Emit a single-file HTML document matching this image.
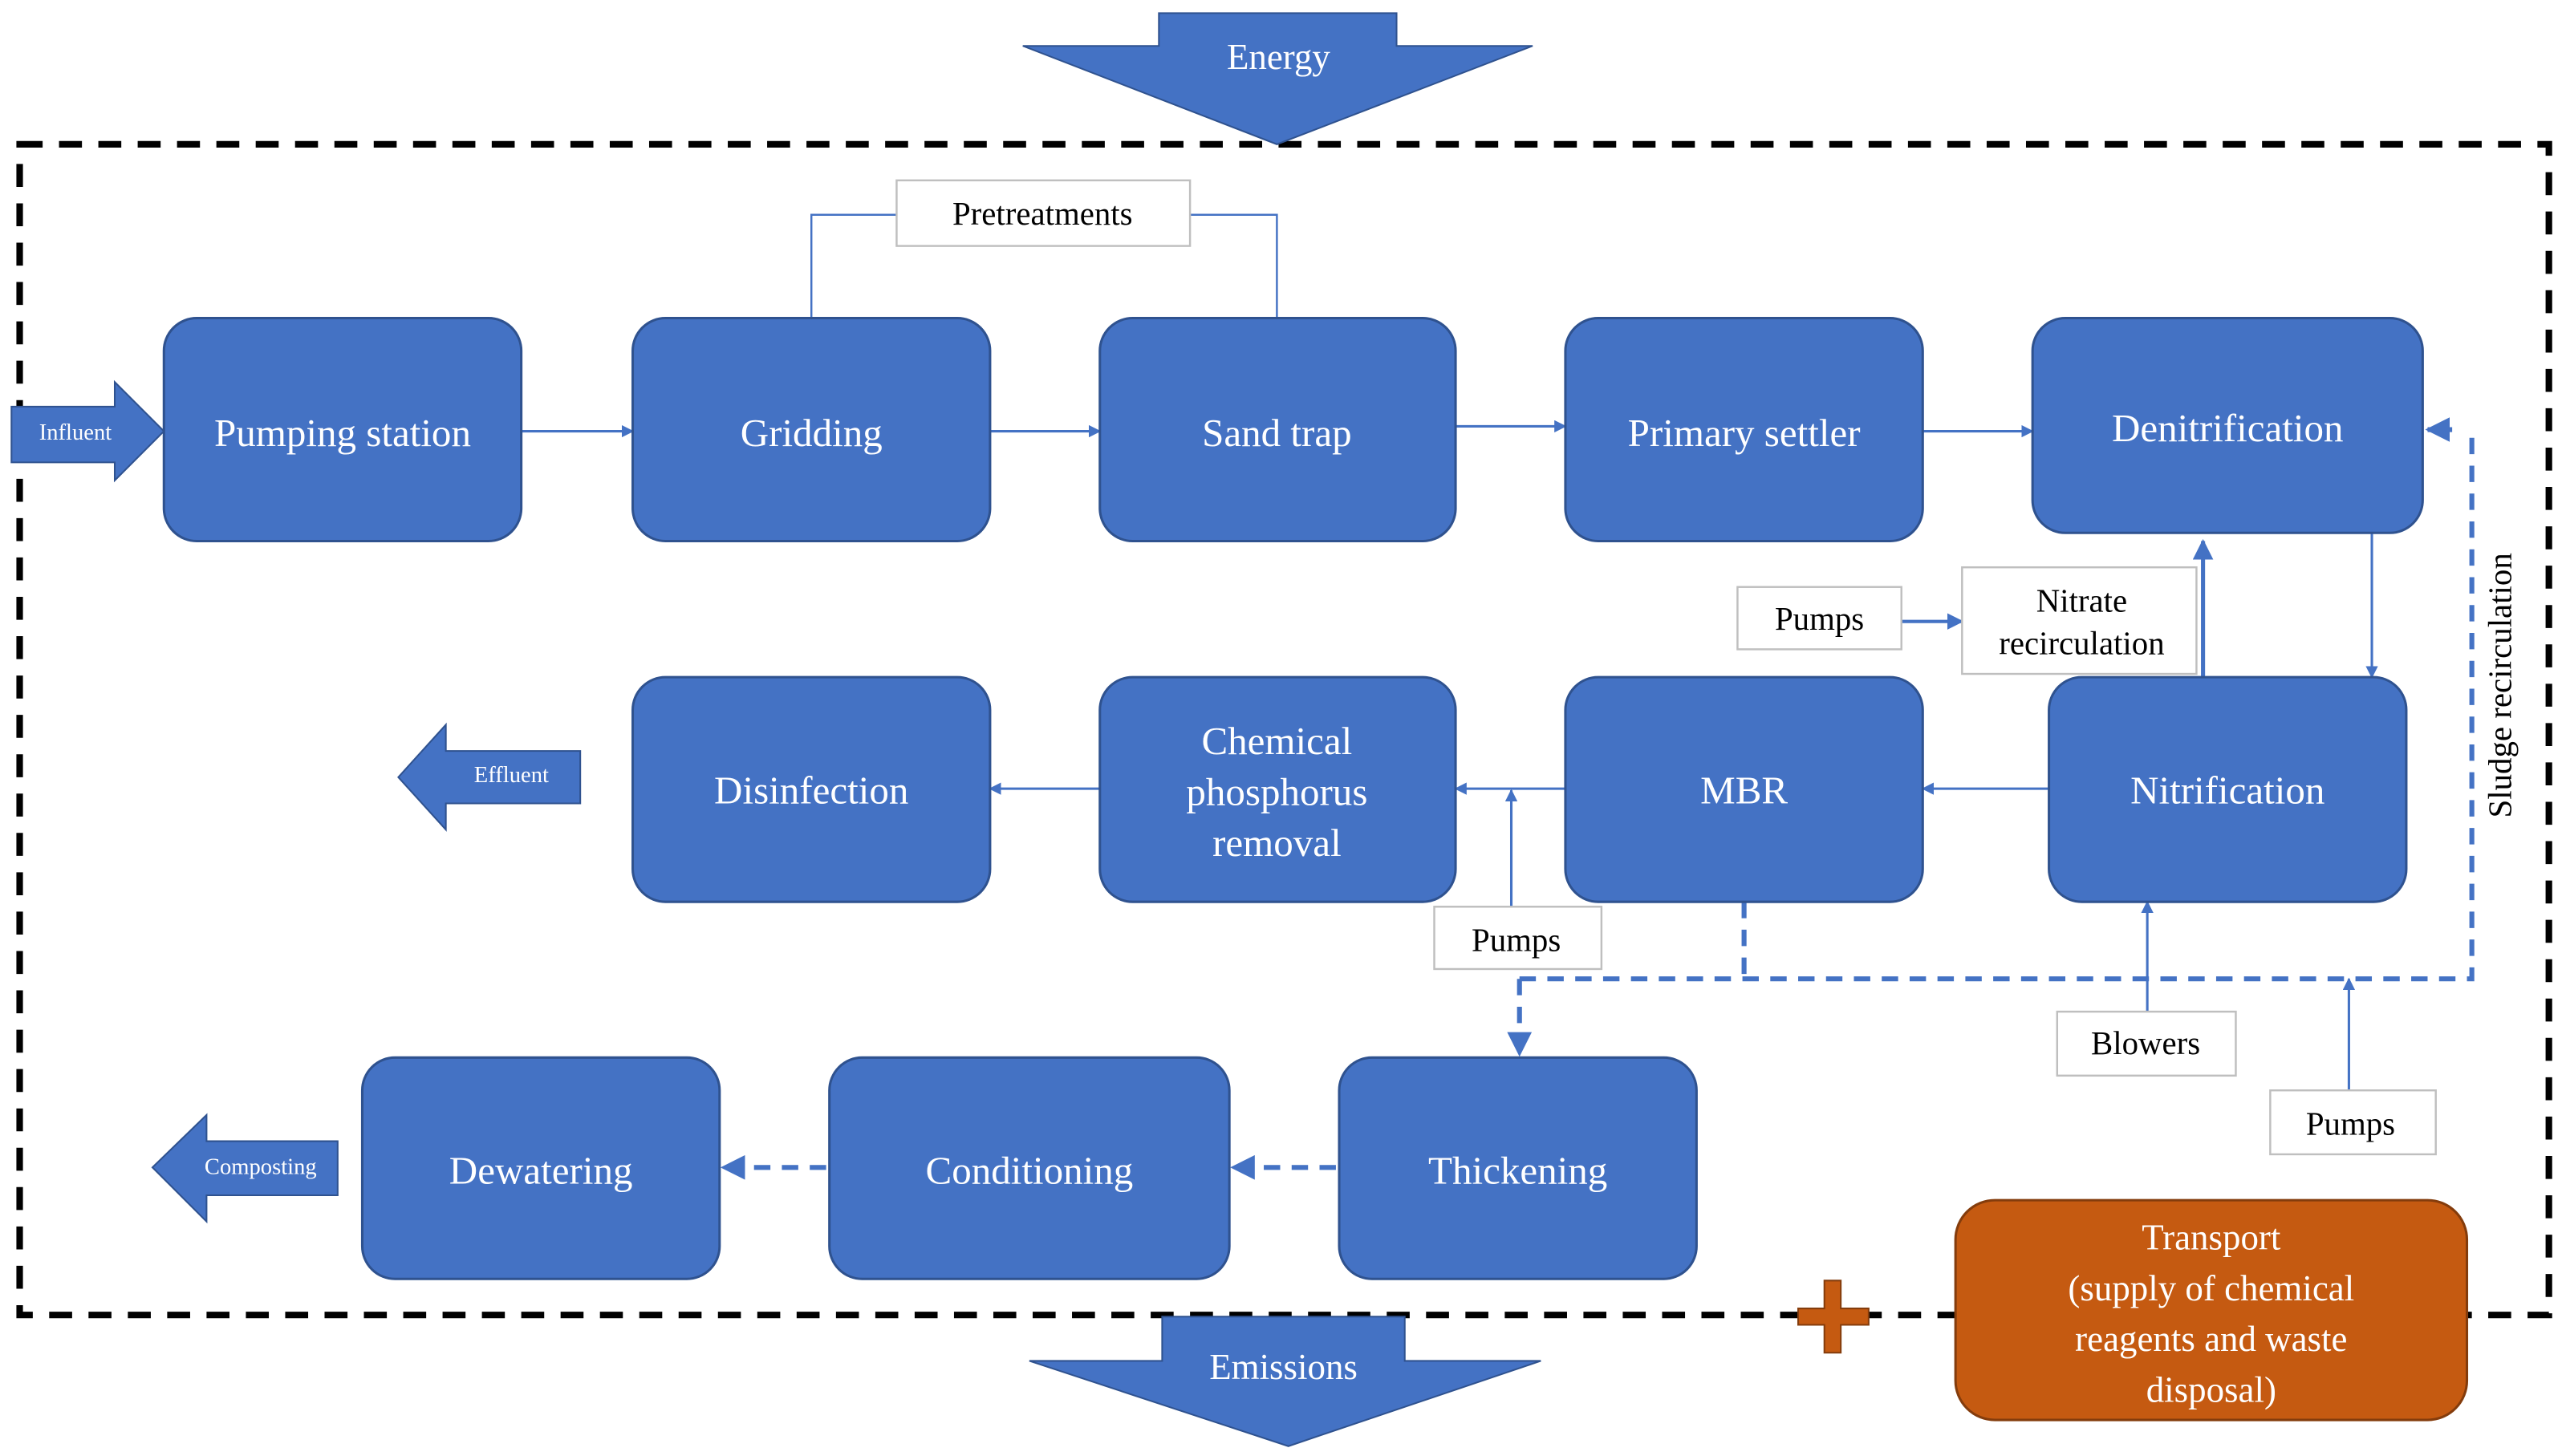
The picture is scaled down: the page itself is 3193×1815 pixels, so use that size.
<!DOCTYPE html>
<html><head><meta charset="utf-8"><style>html,body{margin:0;padding:0;background:#fff}svg{display:block}</style></head>
<body>
<svg width="3193" height="1815" viewBox="0 0 1563 888" preserveAspectRatio="none" xmlns="http://www.w3.org/2000/svg" font-family="Liberation Serif, serif">
<defs>
<marker id="a" viewBox="0 0 10 10" refX="9" refY="5" markerWidth="5" markerHeight="5" orient="auto"><path d="M0,0L10,5L0,10z" fill="#4472C4"/></marker>
</defs>
<rect x="0" y="0" width="1563" height="888" fill="#fff"/>
<!-- dashed border -->
<rect x="12" y="88" width="1543" height="714" fill="none" stroke="#000" stroke-width="4" stroke-dasharray="14,10"/>
<!-- Energy -->
<path d="M707,8H852V28H935L779,88L624,28H707Z" fill="#4472C4" stroke="#2F528F"/>
<text x="780" y="42" fill="#fff" font-size="22" text-anchor="middle">Energy</text>
<!-- Emissions -->
<path d="M709,803H857V830H940L786,882L628,830H709Z" fill="#4472C4" stroke="#2F528F"/>
<text x="783" y="841" fill="#fff" font-size="22" text-anchor="middle">Emissions</text>
<!-- side arrows -->
<path d="M7,248H70V233L100,263L70,293V282H7Z" fill="#4472C4" stroke="#2F528F"/>
<text x="46" y="268" fill="#fff" font-size="14" text-anchor="middle">Influent</text>
<path d="M354,458H272V442L243,474L272,506V490H354Z" fill="#4472C4" stroke="#2F528F"/>
<text x="312" y="477" fill="#fff" font-size="14" text-anchor="middle">Effluent</text>
<path d="M206,696H126V680L93,712L126,745V729H206Z" fill="#4472C4" stroke="#2F528F"/>
<text x="159" y="716" fill="#fff" font-size="14" text-anchor="middle">Composting</text>
<!-- solid connectors -->
<g stroke="#4472C4" stroke-width="1.5" fill="none" marker-end="url(#a)">
<line x1="318" y1="263" x2="386" y2="263"/>
<line x1="604" y1="263" x2="671" y2="263"/>
<line x1="888" y1="260" x2="955" y2="260"/>
<line x1="1173" y1="263" x2="1240" y2="263"/>
<line x1="1447" y1="325" x2="1447" y2="413"/>
<line x1="1344" y1="413" x2="1344" y2="330" stroke-width="2.5"/>
<line x1="1160" y1="379" x2="1197" y2="379" stroke-width="2"/>
<line x1="1250" y1="481" x2="1173" y2="481"/>
<line x1="955" y1="481" x2="888" y2="481"/>
<line x1="671" y1="481" x2="604" y2="481"/>
<line x1="922" y1="553" x2="922" y2="482"/>
<line x1="1310" y1="617" x2="1310" y2="550"/>
<line x1="1433" y1="665" x2="1433" y2="597"/>
</g>
<g stroke="#4472C4" stroke-width="1.2" fill="none">
<path d="M495,194V131H547M726,131H779V194"/>
</g>
<!-- dashed connectors -->
<g stroke="#4472C4" stroke-width="3" fill="none" stroke-dasharray="10,7">
<path d="M1064,550V597M927,597H1508V262"/>
<line x1="927" y1="597" x2="927" y2="643" marker-end="url(#a)"/>
<line x1="815" y1="712" x2="752" y2="712" marker-end="url(#a)"/>
<line x1="504" y1="712" x2="441" y2="712" marker-end="url(#a)"/>
</g>
<line x1="1496" y1="262" x2="1481" y2="262" stroke="#4472C4" stroke-width="3" marker-end="url(#a)"/>
<!-- boxes -->
<g fill="#4472C4" stroke="#2F528F" stroke-width="1.5">
<rect x="100" y="194" width="218" height="136" rx="20"/>
<rect x="386" y="194" width="218" height="136" rx="20"/>
<rect x="671" y="194" width="217" height="136" rx="20"/>
<rect x="955" y="194" width="218" height="136" rx="20"/>
<rect x="1240" y="194" width="238" height="131" rx="20"/>
<rect x="386" y="413" width="218" height="137" rx="20"/>
<rect x="671" y="413" width="217" height="137" rx="20"/>
<rect x="955" y="413" width="218" height="137" rx="20"/>
<rect x="1250" y="413" width="218" height="137" rx="20"/>
<rect x="221" y="645" width="218" height="135" rx="20"/>
<rect x="506" y="645" width="244" height="135" rx="20"/>
<rect x="817" y="645" width="218" height="135" rx="20"/>
</g>
<g fill="#fff" font-size="24" text-anchor="middle">
<text x="209" y="272">Pumping station</text>
<text x="495" y="272">Gridding</text>
<text x="779" y="272">Sand trap</text>
<text x="1064" y="272">Primary settler</text>
<text x="1359" y="269">Denitrification</text>
<text x="495" y="490">Disinfection</text>
<text x="779" y="460">Chemical</text>
<text x="779" y="491">phosphorus</text>
<text x="779" y="522">removal</text>
<text x="1064" y="490">MBR</text>
<text x="1359" y="490">Nitrification</text>
<text x="330" y="722">Dewatering</text>
<text x="628" y="722">Conditioning</text>
<text x="926" y="722">Thickening</text>
</g>
<!-- white label boxes -->
<g fill="#fff" stroke="#BFBFBF" stroke-width="1.2">
<rect x="547" y="110" width="179" height="40"/>
<rect x="1197" y="346" width="143" height="65"/>
<rect x="1060" y="358" width="100" height="38"/>
<rect x="875" y="553" width="102" height="38"/>
<rect x="1255" y="617" width="109" height="39"/>
<rect x="1385" y="665" width="101" height="39"/>
</g>
<g fill="#000" font-size="20" text-anchor="middle">
<text x="636" y="137">Pretreatments</text>
<text x="1270" y="373">Nitrate</text>
<text x="1270" y="399">recirculation</text>
<text x="1110" y="384">Pumps</text>
<text x="925" y="580">Pumps</text>
<text x="1309" y="643">Blowers</text>
<text x="1434" y="692">Pumps</text>
<text transform="translate(1532,418) rotate(-90)" font-size="20">Sludge recirculation</text>
</g>
<!-- transport -->
<path d="M1113,781H1123V798H1140V808H1123V825H1113V808H1097V798H1113Z" fill="#C55A11" stroke="#843C0C" stroke-width="1"/>
<rect x="1193" y="732" width="312" height="134" rx="24" fill="#C55A11" stroke="#843C0C" stroke-width="1.5"/>
<g fill="#fff" font-size="22" text-anchor="middle">
<text x="1349" y="762">Transport</text>
<text x="1349" y="793">(supply of chemical</text>
<text x="1349" y="824">reagents and waste</text>
<text x="1349" y="855">disposal)</text>
</g>
</svg>
</body></html>
